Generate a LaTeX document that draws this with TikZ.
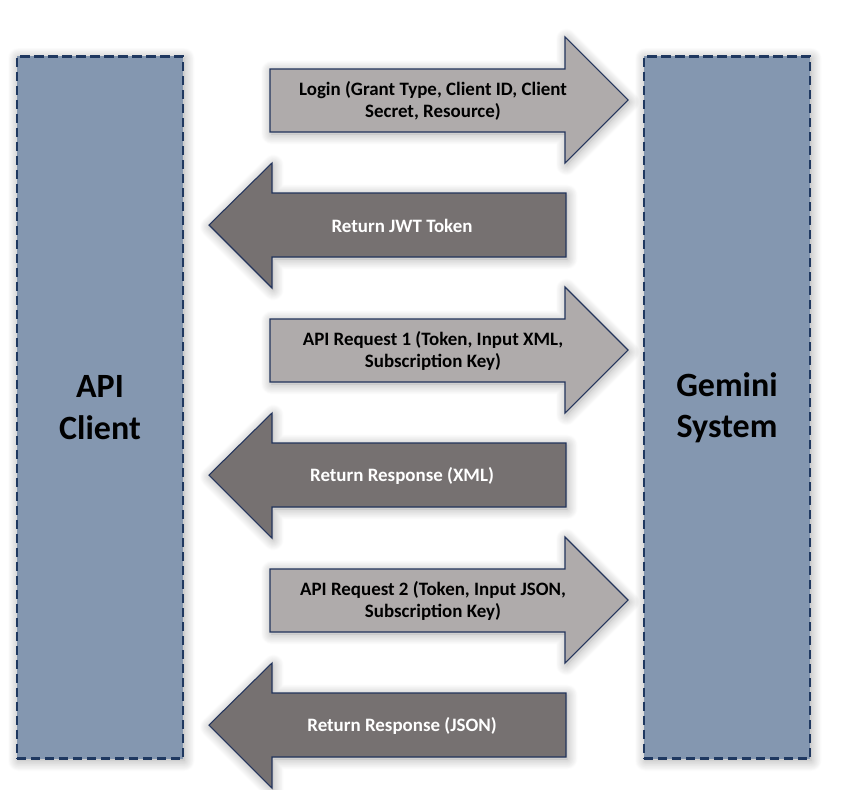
\documentclass[tikz,border=0pt]{standalone}
\usepackage{fontspec}
\setmainfont{Carlito}
\usetikzlibrary{shadows.blur}
\definecolor{boxfill}{RGB}{132,151,176}
\definecolor{boxline}{RGB}{31,56,96}
\definecolor{reqfill}{RGB}{175,171,171}
\definecolor{resfill}{RGB}{118,113,113}
\definecolor{arrline}{RGB}{35,52,92}
\begin{document}
\begin{tikzpicture}[x=0.75pt,y=-0.75pt,
    softshadow/.style={blur shadow={shadow xshift=1pt,shadow yshift=-1.5pt,shadow blur radius=8pt,shadow blur steps=16,shadow opacity=35}},
    sysbox/.style={softshadow,fill=boxfill,draw=boxline,line width=2.2pt,dash pattern=on 7pt off 3.5pt,
        minimum width=124.5pt,minimum height=527pt,align=center,font=\bfseries\fontsize{25.5}{31}\selectfont},
    reqarrow/.style={softshadow,fill=reqfill,draw=arrline,line width=0.8pt,line join=miter},
    resarrow/.style={softshadow,fill=resfill,draw=arrline,line width=0.8pt,line join=miter},
    reqtext/.style={align=center,font=\bfseries\fontsize{14.2}{16.5}\selectfont},
    restext/.style={align=center,text=white,font=\bfseries\fontsize{14.2}{16.5}\selectfont}]
    \useasboundingbox (0,0) rectangle (848,789);
    % the two systems
    \node [sysbox] (client) at (100,407.5) {API\\Client};
    \node [sysbox] (gemini) at (727,407.5) {Gemini\\System};
    % requests, client to gemini
    \foreach \c in {100,350,600}
        \draw [reqarrow] (270,\c-31) -- (565,\c-31) -- (565,\c-63) -- (628,\c) -- (565,\c+63) -- (565,\c+32) -- (270,\c+32) -- cycle;
    % responses, gemini to client
    \foreach \c in {225,475,725}
        \draw [resarrow] (209,\c) -- (272,\c-62) -- (272,\c-32) -- (566,\c-32) -- (566,\c+32) -- (272,\c+32) -- (272,\c+63) -- cycle;
    \node [reqtext] (login) at (433,101) {Login (Grant Type, Client ID, Client\\Secret, Resource)};
    \node [restext] (jwt) at (402,226) {Return JWT Token};
    \node [reqtext] (req1) at (433,351) {API Request 1 (Token, Input XML,\\Subscription Key)};
    \node [restext] (resxml) at (402,476) {Return Response (XML)};
    \node [reqtext] (req2) at (433,601) {API Request 2 (Token, Input JSON,\\Subscription Key)};
    \node [restext] (resjson) at (402,726) {Return Response (JSON)};
\end{tikzpicture}
\end{document}
